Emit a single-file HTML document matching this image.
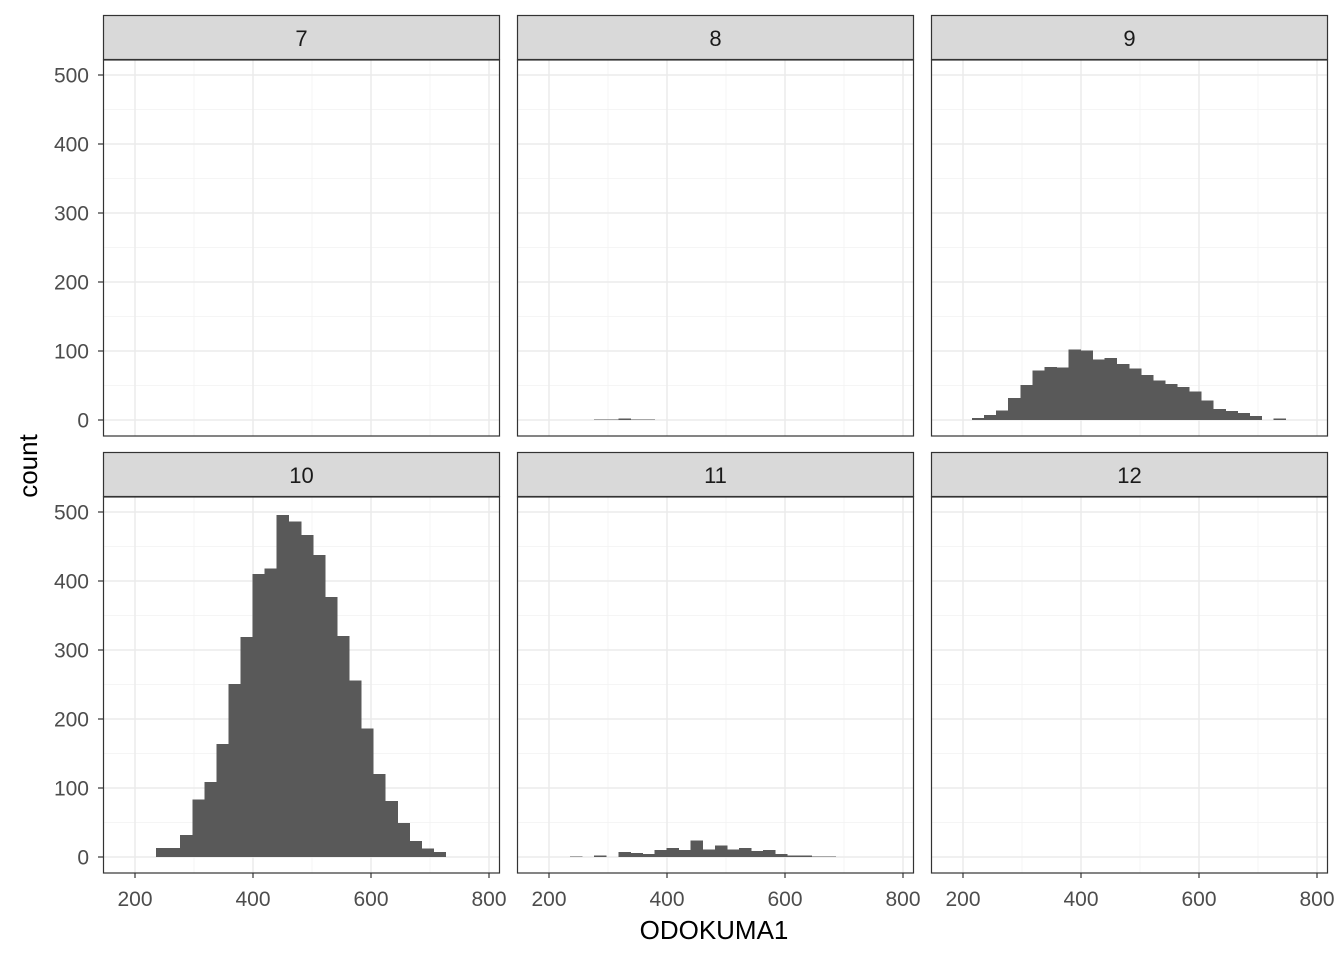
<!DOCTYPE html>
<html><head><meta charset="utf-8"><style>
body{margin:0;background:#fff}
svg text{font-family:"Liberation Sans",Arial,sans-serif}
</style></head><body>
<svg id="c" width="1344" height="960" xmlns="http://www.w3.org/2000/svg"></svg>
<script>
const panels = ["7","8","9","10","11","12"];
const binStart = 215.3;
const binWidth = 20.45;
// counts per panel, with the index of the first bin
const startIdx7 = 0;  const counts7 = [];
const startIdx8 = 3;  const counts8 = [1,1,2,1,1];
const startIdx9 = 0;  const counts9 = [3,7,14,32,51,72,77,76,102,101,88,90,81,75,65,57,52,48,41,28,16,13,10,6,0,2];
const startIdx10 = 1; const counts10 = [13,13,32,83,109,164,251,319,410,418,496,486,467,438,377,320,256,186,120,81,49,23,12,7];
const startIdx11 = 1; const counts11 = [1,0,2,0,7,6,4,10,13,10,24,11,17,11,13,9,10,4,2,2,1,1];
const startIdx12 = 0; const counts12 = [];
const xTicks = [200,400,600,800];
const xMinor = [300,500,700];
const yTicks = [0,100,200,300,400,500];
const yMinor = [50,150,250,350,450];

const allCounts=[counts7,counts8,counts9,counts10,counts11,counts12];
const allStart=[startIdx7,startIdx8,startIdx9,startIdx10,startIdx11,startIdx12];
const NS="http://www.w3.org/2000/svg";
const svg=document.getElementById('c');
function mk(tag,attrs,parent){const e=document.createElementNS(NS,tag);for(const k in attrs)e.setAttribute(k,attrs[k]);(parent||svg).appendChild(e);return e;}
const colX=[103,517,931], W=397, rowTop=[60,497], H=376, stripTop=[15,452];
for(let p=0;p<6;p++){
  const col=p%3,row=Math.floor(p/3);
  const x0=colX[col], y0=rowTop[row];
  const sx=v=>x0+32+(v-200)*0.59;
  const base=y0+360;
  const sy=v=>base-v*0.69;
  const g=mk('g',{});
  
  
  mk('rect',{x:x0,y:y0,width:W,height:H,fill:'#fff'},g);
  xMinor.forEach(v=>mk('line',{x1:sx(v),x2:sx(v),y1:y0,y2:y0+H,stroke:'#f2f2f2','stroke-width':0.8},g));
  yMinor.forEach(v=>mk('line',{x1:x0,x2:x0+W,y1:sy(v),y2:sy(v),stroke:'#f2f2f2','stroke-width':0.8},g));
  xTicks.forEach(v=>mk('line',{x1:sx(v),x2:sx(v),y1:y0,y2:y0+H,stroke:'#ebebeb','stroke-width':1.5},g));
  yTicks.forEach(v=>mk('line',{x1:x0,x2:x0+W,y1:sy(v),y2:sy(v),stroke:'#ebebeb','stroke-width':1.5},g));
  allCounts[p].forEach((c,i)=>{
    if(c<=0)return;
    const b=allStart[p]+i;
    const l=sx(binStart+b*binWidth), r=sx(binStart+(b+1)*binWidth);
    const bar=mk('rect',{x:l,y:sy(c),width:r-l+0.4,height:c*0.69,fill:'#595959','shape-rendering':'crispEdges'},g);
    
    
  });
  mk('rect',{x:x0+0.5,y:y0,width:W-1,height:H,fill:'none',stroke:'#333','stroke-width':1.2},g);
  const st=mk('rect',{x:x0+0.5,y:stripTop[row]+0.5,width:W-1,height:44,fill:'#d9d9d9',stroke:'#333','stroke-width':1.2});
  
  
  const stt=mk('text',{x:x0+W/2,y:stripTop[row]+31,'text-anchor':'middle','font-size':22,fill:'#1a1a1a'});
  stt.textContent=panels[p];
  
  
  if(col===0){
    yTicks.forEach(v=>{
      mk('line',{x1:x0-5,x2:x0,y1:sy(v),y2:sy(v),stroke:'#333','stroke-width':1.2});
      const t=mk('text',{x:x0-14,y:sy(v)+7.5,'text-anchor':'end','font-size':21,fill:'#4d4d4d'});
      t.textContent=v;
      
      
    });
  }
  if(row===1){
    xTicks.forEach(v=>{
      mk('line',{x1:sx(v),x2:sx(v),y1:y0+H,y2:y0+H+5,stroke:'#333','stroke-width':1.2});
      const t=mk('text',{x:sx(v),y:y0+H+33,'text-anchor':'middle','font-size':21,fill:'#4d4d4d'});
      t.textContent=v;
      
      
    });
  }
}
const xt=mk('text',{x:714,y:939,'text-anchor':'middle','font-size':26,fill:'#000'});
xt.textContent='ODOKUMA1';


const yt=mk('text',{x:0,y:0,'text-anchor':'middle','font-size':26,fill:'#000',transform:'translate(37,466) rotate(-90)'});
yt.textContent='count';


</script>
</body></html>
